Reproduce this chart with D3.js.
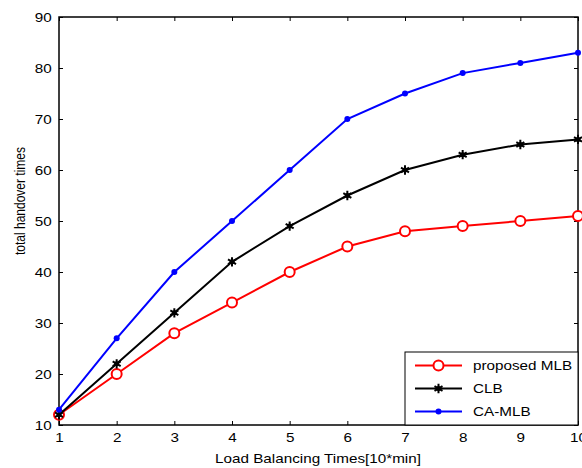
<!DOCTYPE html>
<html>
<head>
<meta charset="utf-8">
<script src="https://cdn.jsdelivr.net/npm/d3@7"></script>
<style>
  body { margin: 0; background: #fff; }
  svg text { font-family: "Liberation Sans", Arial, sans-serif; }
</style>
</head>
<body>
<div id="chart"></div>
<script>
// data
const loadTimes = [1, 2, 3, 4, 5, 6, 7, 8, 9, 10];
const proposedMLB = [12, 20, 28, 34, 40, 45, 48, 49, 50, 51];
const clb = [12, 22, 32, 42, 49, 55, 60, 63, 65, 66];
const caMLB = [13, 27, 40, 50, 60, 70, 75, 79, 81, 83];
const yTicks = [10, 20, 30, 40, 50, 60, 70, 80, 90];

const width = 582, height = 468;
const margin = { left: 59, right: 4, top: 17, bottom: 43 };
const fs = 12.5;      // font size
const stretch = 1.22; // the original figure is a bit wider than tall

const svg = d3.select("#chart").append("svg")
    .attr("width", width)
    .attr("height", height);

const x = d3.scaleLinear().domain([1, 10]).range([margin.left, width - margin.right]);
const y = d3.scaleLinear().domain([10, 90]).range([height - margin.bottom, margin.top]);

// axes, MATLAB style ticks pointing inward
const xAxis = d3.axisBottom(x).tickValues(loadTimes).tickSize(-4).tickPadding(8);
const yAxis = d3.axisLeft(y).tickValues(yTicks).tickSize(-4).tickPadding(6);

function styleAxis(g) {
    g.select(".domain").remove();
    g.selectAll(".tick line").attr("stroke", "#000");
    g.selectAll(".tick text").attr("font-size", fs).attr("fill", "#000")
        .attr("transform", `scale(${stretch},1)`);
}

svg.append("g")
    .attr("transform", `translate(0,${height - margin.bottom})`)
    .call(xAxis).call(styleAxis);
svg.append("g")
    .attr("transform", `translate(${margin.left},0)`)
    .call(yAxis).call(styleAxis);

// top & right mirror ticks
svg.append("g")
    .attr("transform", `translate(0,${margin.top})`)
    .call(d3.axisTop(x).tickValues(loadTimes).tickSize(-4).tickFormat(""))
    .call(styleAxis);
svg.append("g")
    .attr("transform", `translate(${width - margin.right},0)`)
    .call(d3.axisRight(y).tickValues(yTicks).tickSize(-4).tickFormat(""))
    .call(styleAxis);

// box
svg.append("rect")
    .attr("x", margin.left).attr("y", margin.top)
    .attr("width", width - margin.left - margin.right)
    .attr("height", height - margin.top - margin.bottom)
    .attr("fill", "none").attr("stroke", "#000").attr("stroke-width", 1.5);

const line = d3.line().x((d, i) => x(loadTimes[i])).y(d => y(d));

const series = [
    { name: "proposed MLB", values: proposedMLB, color: "#ff0000", marker: "circle" },
    { name: "CLB", values: clb, color: "#000000", marker: "star" },
    { name: "CA-MLB", values: caMLB, color: "#0000ff", marker: "dot" }
];

function drawMarker(g, s, cx, cy) {
    if (s.marker === "circle") {
        g.append("circle").attr("cx", cx).attr("cy", cy).attr("r", 5)
            .attr("fill", "#fff").attr("stroke", s.color).attr("stroke-width", 2);
    } else if (s.marker === "dot") {
        g.append("circle").attr("cx", cx).attr("cy", cy).attr("r", 3)
            .attr("fill", s.color);
    } else {
        g.append("path").attr("transform", `translate(${cx},${cy})`)
            .attr("d", d3.symbol(d3.symbolAsterisk, 60)())
            .attr("fill", "none").attr("stroke", s.color).attr("stroke-width", 2);
        g.append("circle").attr("cx", cx).attr("cy", cy).attr("r", 2.5).attr("fill", s.color);
    }
}

series.forEach(s => {
    const g = svg.append("g");
    g.append("path").datum(s.values)
        .attr("d", line)
        .attr("fill", "none").attr("stroke", s.color).attr("stroke-width", 2);
    s.values.forEach((v, i) => drawMarker(g, s, x(loadTimes[i]), y(v)));
});

// legend
const lg = svg.append("g");
lg.append("rect")
    .attr("x", 405).attr("y", 352)
    .attr("width", width - margin.right - 405).attr("height", height - margin.bottom - 352)
    .attr("fill", "#fff").attr("stroke", "#000").attr("stroke-width", 1);
series.forEach((s, i) => {
    const ly = 365.5 + i * 23;
    lg.append("line").attr("x1", 415).attr("x2", 462).attr("y1", ly).attr("y2", ly)
        .attr("stroke", s.color).attr("stroke-width", 2);
    drawMarker(lg, s, 438.5, ly);
    lg.append("text")
        .attr("transform", `translate(473,${ly + 4.5}) scale(${stretch},1)`)
        .attr("font-size", fs).text(s.name);
});

// axis labels
svg.append("text")
    .attr("transform", `translate(318,463) scale(${stretch},1)`)
    .attr("text-anchor", "middle").attr("font-size", fs)
    .text("Load Balancing Times[10*min]");
svg.append("text")
    .attr("transform", `translate(25,201) scale(${stretch},1) rotate(-90)`)
    .attr("text-anchor", "middle").attr("font-size", 12)
    .text("total handover times");
</script>
</body>
</html>
